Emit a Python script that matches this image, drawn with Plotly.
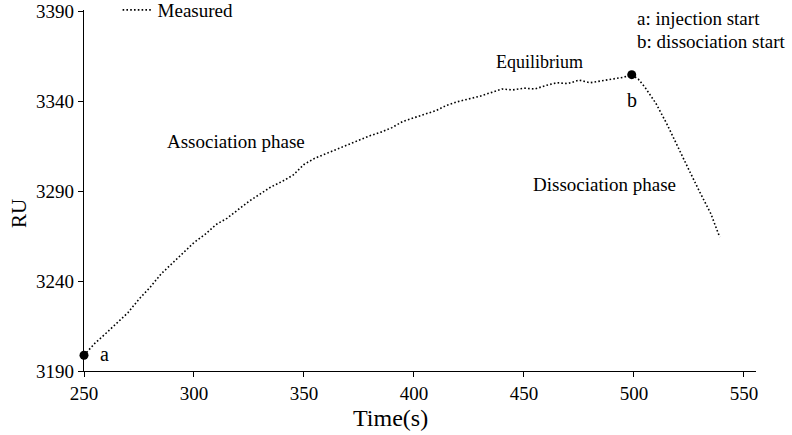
import plotly.graph_objects as go

# Measured sensorgram (time in s, response in RU)
time_s = [250, 255, 260, 265, 270, 275, 280, 285, 290, 295,
          300, 305, 310, 315, 320, 325, 330, 335, 340, 345,
          350, 355, 360, 365, 370, 375, 380, 385, 390, 395,
          400, 405, 410, 415, 420, 425, 430, 435, 440, 445,
          450, 455, 460, 465, 470, 475, 480, 485, 490, 495,
          499, 502, 505, 510, 515, 520, 525, 530, 535, 539]
ru = [3198.8, 3205.5, 3211.0, 3217.0, 3222.5, 3230.0, 3236.5, 3244.0, 3250.0, 3255.5,
      3261.5, 3266.0, 3271.5, 3275.0, 3280.0, 3284.5, 3288.5, 3292.5, 3295.5, 3299.0,
      3305.0, 3308.5, 3311.0, 3313.5, 3316.0, 3318.5, 3321.0, 3323.0, 3325.5, 3329.0,
      3331.0, 3333.0, 3335.0, 3338.0, 3340.0, 3341.5, 3343.0, 3345.0, 3347.0, 3346.5,
      3347.5, 3347.0, 3349.0, 3350.5, 3350.0, 3352.0, 3350.5, 3351.5, 3352.5, 3353.5,
      3355.0, 3352.5, 3348.0, 3339.0, 3327.5, 3314.5, 3302.0, 3289.5, 3277.5, 3264.5]

# key points
key_t = [250, 499]
key_ru = [3198.8, 3355.0]

x_ticks = [250, 300, 350, 400, 450, 500, 550]
y_ticks = [3190, 3240, 3290, 3340, 3390]

FONT = "Liberation Serif"
PLOT_H = 435 - 10 - 64

fig = go.Figure()
fig.add_trace(go.Scatter(
    x=time_s, y=ru, mode="lines", name="Measured",
    line=dict(color="black", width=1.6, dash="1.6px,2.2px"),
))
fig.add_trace(go.Scatter(
    x=key_t, y=key_ru, mode="markers", showlegend=False,
    marker=dict(color="black", size=9), cliponaxis=False,
))

annots = [
    dict(x=259.5, y=3199.4, text="a", xanchor="center", yanchor="middle", size=20),
    dict(x=499.1, y=3340.8, text="b", xanchor="center", yanchor="middle", size=20),
    dict(x=457.3, y=3361.8, text="Equilibrium", xanchor="center", yanchor="middle", size=18),
    dict(x=319.1, y=3317.6, text="Association phase", xanchor="center", yanchor="middle", size=19),
    dict(x=486.8, y=3293.9, text="Dissociation phase", xanchor="center", yanchor="middle", size=19),
    dict(x=500.6, y=3386.0, text="a: injection start", xanchor="left", yanchor="middle", size=19),
    dict(x=500.6, y=3373.5, text="b: dissociation start", xanchor="left", yanchor="middle", size=19),
]
for a in annots:
    s = a.pop("size")
    fig.add_annotation(xref="x", yref="y", showarrow=False,
                       font=dict(family=FONT, size=s, color="black"), **a)

# axis titles
fig.add_annotation(xref="paper", yref="paper", x=(390 - 84) / 672, y=-(418 - 371) / PLOT_H,
                   text="Time(s)", showarrow=False, xanchor="center", yanchor="middle",
                   font=dict(family=FONT, size=24, color="black"))
fig.add_annotation(xref="paper", yref="paper", x=-(84 - 19) / 672, y=(371 - 214) / PLOT_H,
                   text="RU", showarrow=False, textangle=-90, xanchor="center", yanchor="middle",
                   font=dict(family=FONT, size=21, color="black"))

axis_common = dict(showgrid=False, zeroline=False, showline=True, linecolor="black",
                   linewidth=1.4, ticks="outside", ticklen=5, tickwidth=1.4,
                   tickcolor="black", ticklabeloverflow="allow",
                   tickfont=dict(family=FONT, size=19, color="black"))

fig.update_xaxes(range=[250, 555.5], tickvals=x_ticks, **axis_common)
fig.update_yaxes(range=[3190, 3391], tickvals=y_ticks, **axis_common)

fig.update_layout(
    width=792, height=435,
    margin=dict(l=84, r=36, t=10, b=64, autoexpand=False),
    plot_bgcolor="white", paper_bgcolor="white",
    showlegend=True,
    legend=dict(x=0.05, y=1.0, xanchor="left", yanchor="middle",
                bgcolor="rgba(0,0,0,0)", font=dict(family=FONT, size=19, color="black")),
)

fig.write_html("out.html", config={"displayModeBar": False},
               post_script="document.body.style.margin='0';")
